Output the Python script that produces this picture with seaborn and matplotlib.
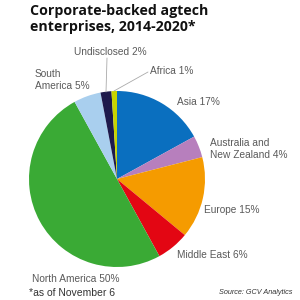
import matplotlib
matplotlib.use("Agg")
import matplotlib.pyplot as plt
import seaborn as sns

regions = ["Asia", "Australia and\nNew Zealand", "Europe", "Middle East",
           "North America", "South\nAmerica", "Undisclosed", "Africa"]
shares = [17, 4, 15, 6, 50, 5, 2, 1]
colors = ["#0a6fbf", "#b77fbd", "#f59b00", "#e30613",
          "#3aaa35", "#a9cfee", "#1e1a4c", "#c8d400"]

sns.set_theme(style="white")
plt.rcParams['font.family'] = ['Liberation Sans', 'DejaVu Sans']

W = H = 300
fig = plt.figure(figsize=(3, 3), dpi=100)
fig.patch.set_facecolor("white")

cx, cy, r = 117, 179, 88
ax = fig.add_axes([(cx - r) / W, 1 - (cy + r) / H, 2 * r / W, 2 * r / H])
ax.pie(shares, colors=sns.color_palette(colors), startangle=90, counterclock=False,
       radius=1, wedgeprops=dict(linewidth=0))
ax.set_xlim(-1, 1)
ax.set_ylim(-1, 1)
ax.set_aspect("equal")
ax.axis("off")

def px(x, y):
    return x / W, 1 - y / H

tc = "#5a5a5a"
fs = 7.3

fig.text(*px(30, 4), "Corporate-backed agtech\nenterprises, 2014-2020*",
         family=["Open Sans", "DejaVu Sans"], fontweight="bold", fontsize=10.2,
         color="#111111", va="top", ha="left", linespacing=1.15)

labels_pos = {
    0: (177, 102),
    1: (210, 149),
    2: (204, 210),
    3: (177, 255),
    4: (32, 279),
    5: (35, 80),
    6: (74, 52),
    7: (150, 71),
}
for i, (x, y) in labels_pos.items():
    fig.text(*px(x, y), f"{regions[i]} {shares[i]}%", fontsize=fs, color=tc,
             ha="left", va="center", linespacing=1.3)

# leader lines
line_kw = dict(color="#aaaaaa", linewidth=0.6, transform=fig.transFigure)
fig.add_artist(plt.Line2D([107 / W, 106 / W], [1 - 58 / H, 1 - 92 / H], **line_kw))
fig.add_artist(plt.Line2D([148 / W, 114 / W], [1 - 72 / H, 1 - 91 / H], **line_kw))

fig.text(*px(29, 293), "*as of November 6", fontsize=7.5, color="#333333",
         ha="left", va="center")
fig.text(*px(292, 293), "Source: GCV Analytics", fontsize=5.2, color="#333333",
         ha="right", va="center", style="italic")

fig.savefig("out.png", dpi=100)
